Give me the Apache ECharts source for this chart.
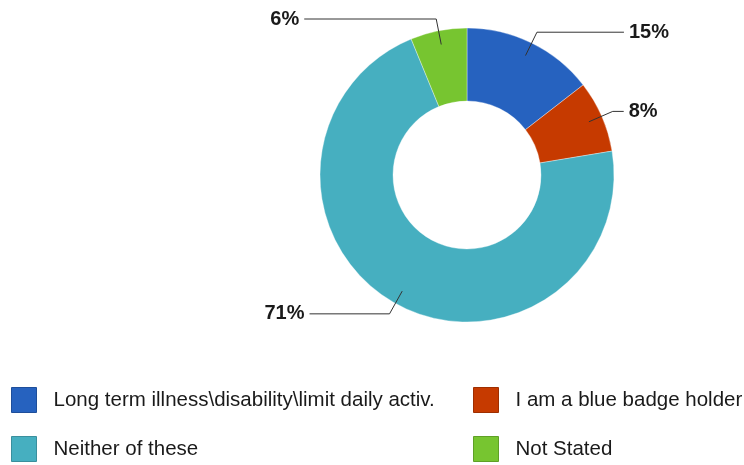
<!DOCTYPE html>
<html>
<head>
<meta charset="utf-8">
<script src="https://cdn.jsdelivr.net/npm/echarts@6/dist/echarts.min.js"></script>
<style>
html,body{margin:0;padding:0;background:#fff;}
#chart{width:744px;height:465px;}
</style>
</head>
<body>
<div id="chart"></div>
<script>
var categories = ['Long term illness\\disability\\limit daily activ.', 'I am a blue badge holder', 'Neither of these', 'Not Stated'];
var values = [14.5, 7.9, 71.4, 6.2];
var colors = ['#2662BF', '#C63A00', '#46AFC0', '#77C530'];
var borders = ['#1E4E9A', '#9E2E00', '#3A8F9D', '#5FA026'];
var labelLen2 = [87, 11, 80, 132];

var chart = echarts.init(document.getElementById('chart'), null, {renderer: 'canvas'});

var mainData = categories.map(function (c, i) {
  return {name: c, value: values[i], itemStyle: {color: colors[i]}};
});
var labelData = categories.map(function (c, i) {
  return {name: c, value: values[i], labelLine: {length: 26, length2: labelLen2[i]}};
});

function legendItems(idx) {
  return idx.map(function (i) {
    return {name: categories[i], itemStyle: {color: colors[i], borderColor: borders[i], borderWidth: 1}};
  });
}
var legendText = {color: '#1a1a1a', fontFamily: 'Liberation Sans, Arial, sans-serif', fontSize: 20.5, lineHeight: 25, padding: [0, 0, 0, 12]};

chart.setOption({
  animation: false,
  backgroundColor: '#fff',
  legend: [
    {orient: 'vertical', left: 11, top: 387, height: 78, padding: 0, itemWidth: 25, itemHeight: 25, itemGap: 23, icon: 'rect', data: legendItems([0, 2]), textStyle: legendText, selectedMode: false},
    {orient: 'vertical', left: 473, top: 387, height: 78, padding: 0, itemWidth: 25, itemHeight: 25, itemGap: 23, icon: 'rect', data: legendItems([1, 3]), textStyle: legendText, selectedMode: false}
  ],
  series: [
    {
      type: 'pie',
      center: [467, 175],
      radius: [74, 147],
      startAngle: 90,
      clockwise: true,
      label: {show: false},
      labelLine: {show: false},
      itemStyle: {borderColor: 'rgba(255,255,255,0.35)', borderWidth: 1},
      emphasis: {disabled: true},
      data: mainData
    },
    {
      type: 'pie',
      center: [467, 175],
      radius: [0, 133],
      startAngle: 90,
      clockwise: true,
      silent: true,
      z: 5,
      percentPrecision: 0,
      itemStyle: {color: 'rgba(0,0,0,0)', borderWidth: 0},
      label: {
        show: true,
        formatter: '{d}%',
        color: '#1a1a1a',
        fontFamily: 'Liberation Sans, Arial, sans-serif',
        fontWeight: 'bold',
        fontSize: 20
      },
      labelLine: {show: true, lineStyle: {color: '#333', width: 1}},
      emphasis: {disabled: true},
      data: labelData
    }
  ]
});
</script>
</body>
</html>
